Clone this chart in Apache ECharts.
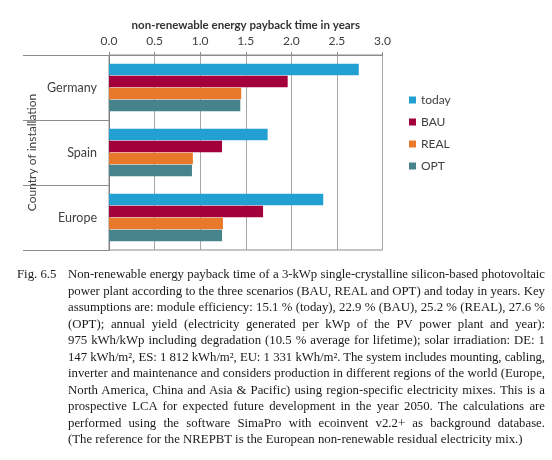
<!DOCTYPE html>
<html>
<head>
<meta charset="utf-8">
<script src="https://cdn.jsdelivr.net/npm/echarts@6/dist/echarts.min.js"></script>
<style>
  html, body { margin:0; padding:0; background:#fff; }
  #wrap { position:relative; width:552px; height:460px; overflow:hidden; }
  #chart { position:absolute; left:0; top:0; width:552px; height:460px; }
  #cap { position:absolute; left:0; top:266px; width:552px; font-family:'Liberation Serif','Times New Roman',serif; font-size:12.8px; line-height:16.5px; color:#1a1a1a; }
  #cap .fig { position:absolute; left:17px; top:0; white-space:nowrap; }
  #cap .ln { margin-left:68px; width:477px; white-space:nowrap; text-align:justify; text-align-last:justify; }
  #cap .ln.last { text-align-last:left; }
  #cap .meas { display:inline-block; white-space:nowrap; }
</style>
</head>
<body>
<div id="wrap">
  <div id="chart"></div>
  <div id="cap"></div>
</div>
<script>
// ---- data ----
const countries = ['Germany', 'Spain', 'Europe'];
const seriesNames = ['today', 'BAU', 'REAL', 'OPT'];
const today = [2.74, 1.74, 2.35];
const bau   = [1.96, 1.24, 1.69];
const real  = [1.45, 0.92, 1.25];
const opt   = [1.44, 0.91, 1.24];
const xTicks = [0.0, 0.5, 1.0, 1.5, 2.0, 2.5, 3.0];
const xTitle = 'non-renewable energy payback time in years';
const yTitle = 'Country of installation';
const captionLabel = 'Fig. 6.5';
const captionLines = [
  'Non-renewable energy payback time of a 3-kWp single-crystalline silicon-based photovoltaic',
  'power plant according to the three scenarios (BAU, REAL and OPT) and today in years. Key',
  'assumptions are: module efficiency: 15.1 % (today), 22.9 % (BAU), 25.2 % (REAL), 27.6 %',
  '(OPT); annual yield (electricity generated per kWp of the PV power plant and year):',
  '975 kWh/kWp including degradation (10.5 % average for lifetime); solar irradiation: DE: 1',
  '147 kWh/m\u00B2, ES: 1 812 kWh/m\u00B2, EU: 1 331 kWh/m\u00B2. The system includes mounting, cabling,',
  'inverter and maintenance and considers production in different regions of the world (Europe,',
  'North America, China and Asia & Pacific) using region-specific electricity mixes. This is a',
  'prospective LCA for expected future development in the year 2050. The calculations are',
  'performed using the software SimaPro with ecoinvent v2.2+ as background database.',
  '(The reference for the NREPBT is the European non-renewable residual electricity mix.)'
];

// ---- caption ----
const CAP_W = 477;
const cap = document.getElementById('cap');
const fig = document.createElement('div');
fig.className = 'fig';
fig.textContent = captionLabel;
cap.appendChild(fig);
captionLines.forEach((t, i) => {
  const d = document.createElement('div');
  d.className = 'ln' + (i === captionLines.length - 1 ? ' last' : '');
  d.textContent = t;
  cap.appendChild(d);
  const m = document.createElement('span');
  m.className = 'meas';
  m.textContent = t;
  cap.appendChild(m);
  const w = m.getBoundingClientRect().width;
  cap.removeChild(m);
  if (w > CAP_W - 2) {
    const ls = -(w - (CAP_W - 2)) / t.length;
    d.style.letterSpacing = ls.toFixed(3) + 'px';
  }
});

// ---- chart ----
const colors = ['#22a0d2', '#a3003b', '#e8792a', '#46838a'];
const valuesBySeries = [today, bau, real, opt];
const font = 'Lato, "Open Sans", sans-serif';
const txt = '#404040';

const chart = echarts.init(document.getElementById('chart'), null, { renderer: 'canvas' });
chart.setOption({
  animation: false,
  color: colors,
  textStyle: { fontFamily: font },
  grid: {
    left: 109, right: 169.5, top: 55, bottom: 210,
    show: true, borderColor: '#8c8c8c', borderWidth: 1, backgroundColor: 'transparent'
  },
  legend: {
    orient: 'vertical',
    left: 404, top: 89,
    icon: 'rect',
    itemWidth: 7, itemHeight: 7,
    itemGap: 10,
    data: seriesNames,
    textStyle: { fontSize: 12, color: txt, fontFamily: font }
  },
  xAxis: {
    type: 'value',
    position: 'top',
    min: xTicks[0],
    max: xTicks[xTicks.length - 1],
    interval: xTicks[1] - xTicks[0],
    name: xTitle,
    nameLocation: 'middle',
    nameGap: 24,
    nameTextStyle: { fontSize: 11.5, fontWeight: 'bold', color: '#333', fontFamily: font },
    axisLine: { show: true, lineStyle: { color: '#8c8c8c' } },
    axisTick: { show: true, length: 3, lineStyle: { color: '#8c8c8c' } },
    axisLabel: { fontSize: 12, color: txt, margin: 8, formatter: v => v.toFixed(1) },
    splitLine: { show: true, lineStyle: { color: '#a6a6a6', width: 1 } }
  },
  yAxis: {
    type: 'category',
    inverse: true,
    data: countries,
    name: yTitle,
    nameLocation: 'middle',
    nameGap: 71,
    nameRotate: 90,
    nameTextStyle: { fontSize: 12, color: txt, fontFamily: font },
    axisLine: { show: true, lineStyle: { color: '#7f7f7f' } },
    axisTick: { show: true, length: 86, lineStyle: { color: '#8c8c8c' } },
    axisLabel: { fontSize: 12.5, color: txt, margin: 12 }
  },
  series: seriesNames.map((n, i) => ({
    name: n,
    type: 'bar',
    data: valuesBySeries[i],
    barWidth: 11.4,
    barGap: '5%',
    itemStyle: { color: colors[i] }
  }))
});
</script>
</body>
</html>
